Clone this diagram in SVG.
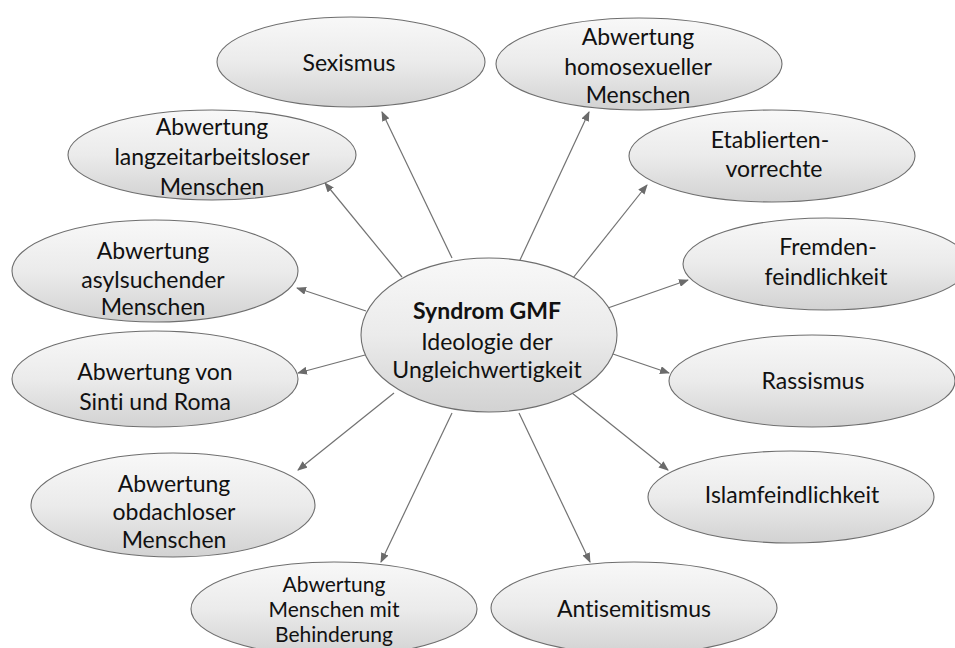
<svg xmlns="http://www.w3.org/2000/svg" width="955" height="648" viewBox="0 0 955 648">
<defs>
<linearGradient id="g" x1="0" y1="0" x2="0" y2="1">
<stop offset="0" stop-color="#f8f8f8"/>
<stop offset="0.5" stop-color="#ebebeb"/>
<stop offset="1" stop-color="#d2d2d2"/>
</linearGradient>
<marker id="ah" markerUnits="userSpaceOnUse" markerWidth="10" markerHeight="8" refX="9" refY="4" orient="auto" viewBox="0 0 10 8">
<path d="M0,0 L10,4 L0,8 Z" fill="#6b6b6b"/>
</marker>
</defs>
<style>
ellipse{fill:url(#g);stroke:#6e6e6e;stroke-width:1.1}
text{font-family:Lato,"Open Sans","Liberation Sans",sans-serif;font-size:23px;fill:#111;text-anchor:middle;font-variant-ligatures:none}
.b{font-weight:bold}
.s{font-size:21px}
#connectors line{stroke:#727272;stroke-width:1.2;marker-end:url(#ah)}
</style>
<rect width="955" height="648" fill="#fff"/>
<g id="connectors">
<line x1="452" y1="258" x2="382" y2="112"/>
<line x1="402" y1="277" x2="325" y2="183"/>
<line x1="366" y1="311" x2="297" y2="288"/>
<line x1="365" y1="355" x2="298" y2="373"/>
<line x1="394" y1="393" x2="298" y2="470"/>
<line x1="452" y1="413" x2="381" y2="562"/>
<line x1="519" y1="413" x2="590" y2="562"/>
<line x1="572" y1="393" x2="668" y2="470"/>
<line x1="610" y1="353" x2="669" y2="373"/>
<line x1="605" y1="309" x2="688" y2="280"/>
<line x1="573" y1="278" x2="647" y2="185"/>
<line x1="520" y1="260" x2="589" y2="112"/>
</g>
<g id="sexismus"><ellipse cx="351" cy="62" rx="134" ry="45"/><text x="349" y="71">Sexismus</text></g>
<g id="homosexuelle"><ellipse cx="639" cy="64" rx="143" ry="46"/><text x="638" y="45">Abwertung</text><text x="638" y="75">homosexueller</text><text x="638" y="103">Menschen</text></g>
<g id="etablierte"><ellipse cx="772" cy="156" rx="143" ry="46"/><text x="770" y="148">Etablierten-</text><text x="774" y="177">vorrechte</text></g>
<g id="fremdenfeindlichkeit"><ellipse cx="826" cy="264" rx="143" ry="46"/><text x="828" y="255">Fremden-</text><text x="826" y="285">feindlichkeit</text></g>
<g id="rassismus"><ellipse cx="812" cy="381" rx="143" ry="46"/><text x="813" y="389">Rassismus</text></g>
<g id="islamfeindlichkeit"><ellipse cx="791" cy="497" rx="143" ry="46"/><text x="792" y="503">Islamfeindlichkeit</text></g>
<g id="antisemitismus"><ellipse cx="634" cy="608" rx="143" ry="46"/><text x="634" y="617">Antisemitismus</text></g>
<g id="behinderung"><ellipse cx="334" cy="609" rx="143" ry="47"/><text class="s" x="334" y="592">Abwertung</text><text class="s" x="334" y="617">Menschen mit</text><text class="s" x="334" y="642">Behinderung</text></g>
<g id="obdachlose"><ellipse cx="173" cy="505" rx="142" ry="52"/><text x="174" y="492">Abwertung</text><text x="174" y="520">obdachloser</text><text x="174" y="548">Menschen</text></g>
<g id="sinti-roma"><ellipse cx="155" cy="379" rx="143" ry="48"/><text x="155" y="380">Abwertung von</text><text x="155" y="410">Sinti und Roma</text></g>
<g id="asylsuchende"><ellipse cx="155" cy="271" rx="143" ry="51"/><text x="153" y="259">Abwertung</text><text x="153" y="288">asylsuchender</text><text x="153" y="315">Menschen</text></g>
<g id="langzeitarbeitslose"><ellipse cx="212" cy="155" rx="144" ry="45"/><text x="212" y="135">Abwertung</text><text x="212" y="165">langzeitarbeitsloser</text><text x="212" y="195">Menschen</text></g>
<g id="zentrum"><ellipse cx="489" cy="335" rx="128" ry="77"/><text x="487" y="319" class="b">Syndrom GMF</text><text x="487" y="350">Ideologie der</text><text x="487" y="378">Ungleichwertigkeit</text></g>
</svg>
